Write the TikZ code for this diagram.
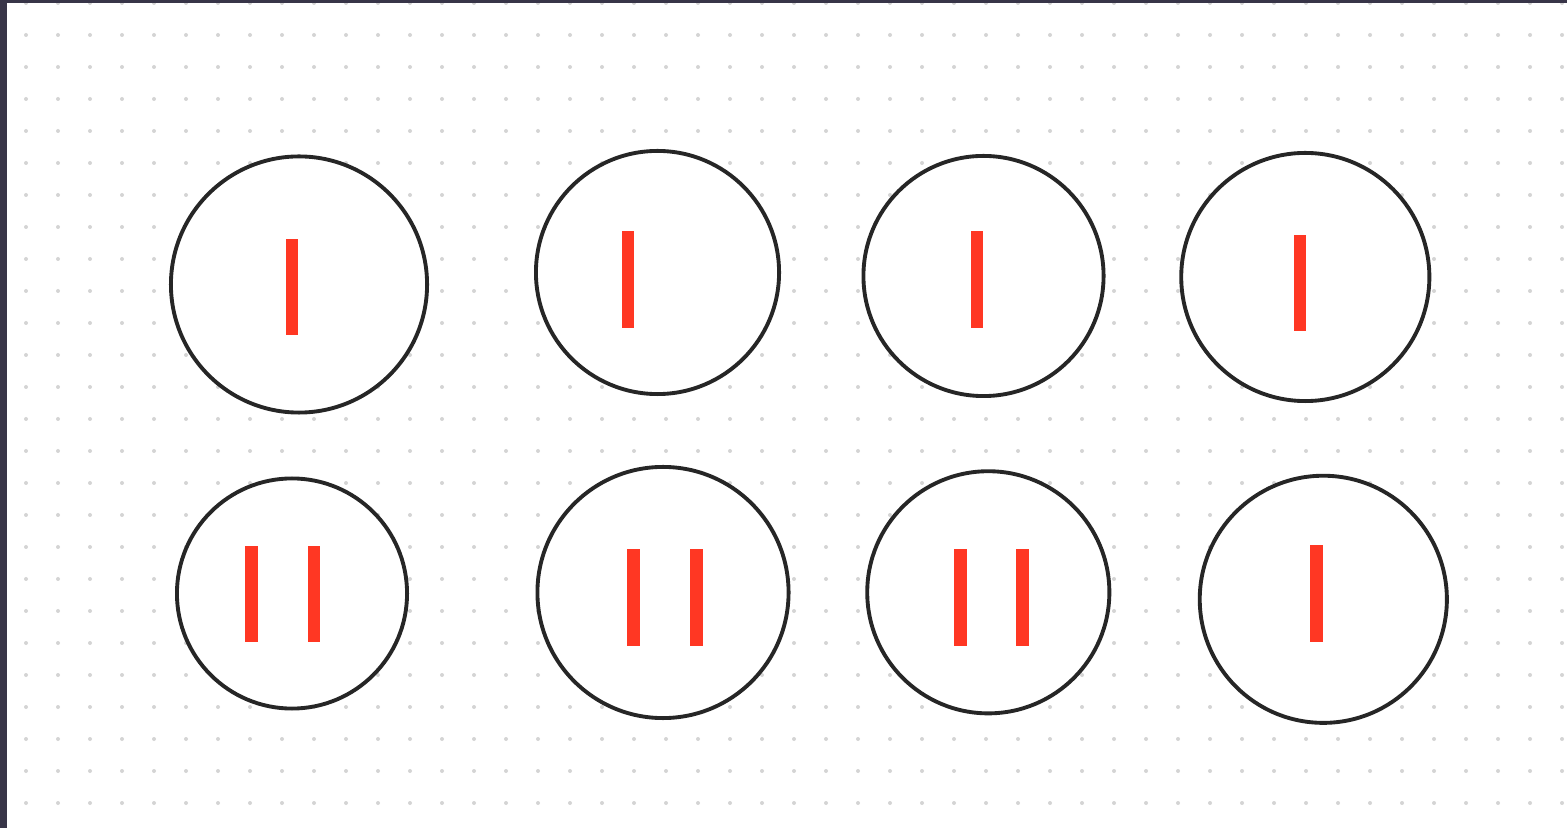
\documentclass[tikz,border=0pt]{standalone}
\definecolor{frame}{RGB}{56,53,72}
\definecolor{dotgray}{RGB}{212,212,212}
\definecolor{ringcol}{RGB}{38,38,38}
\definecolor{barred}{RGB}{255,55,35}
\tikzset{
  ring/.style={circle, draw=ringcol, line width=1.1pt, fill=white, inner sep=0pt},
  redbar/.style={fill=barred},
  griddot/.style={fill=dotgray}
}
\begin{document}
\begin{tikzpicture}[x=0.01cm, y=-0.01cm]
\useasboundingbox (0,0) rectangle (1567,828);
\fill[frame] (0,0) rectangle (1567,828);
\fill[white] (7,3) rectangle (1567,828);
\foreach \i in {0,...,48} {
  \foreach \j in {0,...,25} {
    \fill[griddot] ({26+32*\i},{3+32*\j}) circle (2.0);
  }
}
\fill[frame] (0,0) rectangle (1567,3);
% circles
\node[ring, minimum size=2.56cm] (c1) at (299,284.5) {};
\node[ring, minimum size=2.43cm] (c2) at (657.5,272.5) {};
\node[ring, minimum size=2.40cm] (c3) at (983.5,276) {};
\node[ring, minimum size=2.48cm] (c4) at (1305.3,277) {};
\node[ring, minimum size=2.30cm] (c5) at (292,593.5) {};
\node[ring, minimum size=2.51cm] (c6) at (663,592.5) {};
\node[ring, minimum size=2.42cm] (c7) at (988.3,592.3) {};
\node[ring, minimum size=2.47cm] (c8) at (1323.3,599.3) {};
% bars
\fill[redbar] (286,239) rectangle (298,335);
\fill[redbar] (622,231) rectangle (634,328);
\fill[redbar] (970.5,231.5) rectangle (983,328);
\fill[redbar] (1293.5,235) rectangle (1306,331.5);
\fill[redbar] (245,545.7) rectangle (257.7,642.3);
\fill[redbar] (307.7,545.7) rectangle (320.3,642.3);
\fill[redbar] (627.3,549.3) rectangle (640,646);
\fill[redbar] (689.7,549.3) rectangle (702.7,646);
\fill[redbar] (953.7,549.3) rectangle (966.7,645.7);
\fill[redbar] (1016.3,549.3) rectangle (1029.3,645.7);
\fill[redbar] (1310,545.3) rectangle (1323,642);
\end{tikzpicture}
\end{document}
